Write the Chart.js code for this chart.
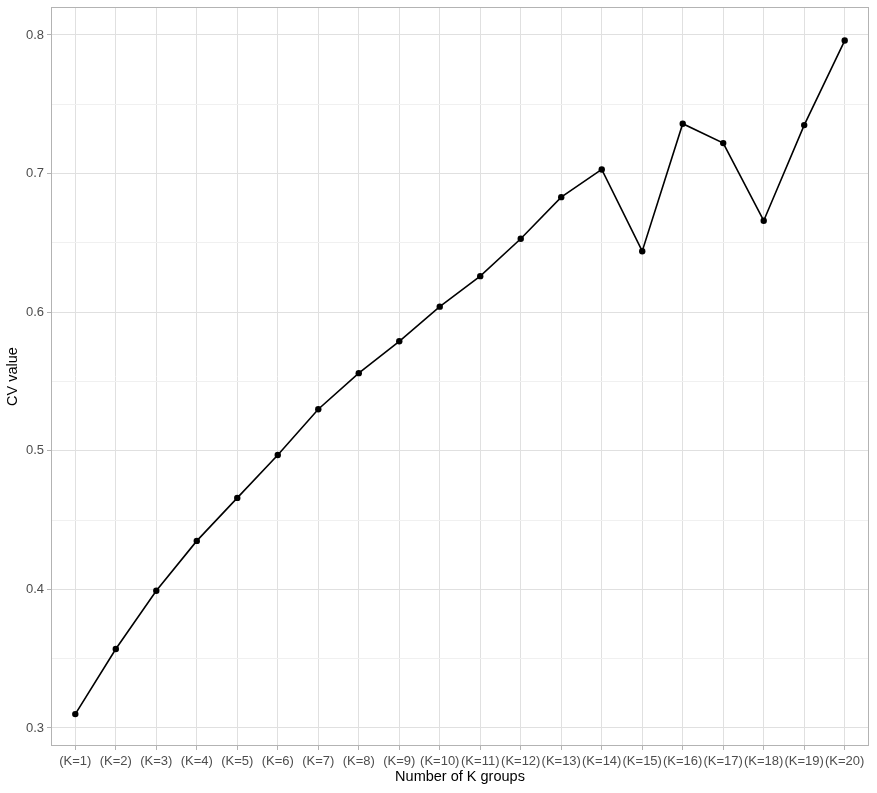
<!DOCTYPE html>
<html>
<head>
<meta charset="utf-8">
<script src="https://cdn.jsdelivr.net/npm/chart.js@4/dist/chart.umd.min.js"></script>
<style>
    body { margin: 0; background: #fff; }
    #wrap { width: 877px; height: 793px; }
</style>
</head>
<body>
<div id="wrap"><canvas id="cvChart"></canvas></div>
<script>
const categories = ['(K=1)', '(K=2)', '(K=3)', '(K=4)', '(K=5)', '(K=6)', '(K=7)', '(K=8)', '(K=9)', '(K=10)',
    '(K=11)', '(K=12)', '(K=13)', '(K=14)', '(K=15)', '(K=16)', '(K=17)', '(K=18)', '(K=19)', '(K=20)'];
const cvValues = [0.310, 0.357, 0.399, 0.435, 0.466, 0.497, 0.530, 0.556, 0.579, 0.604,
    0.626, 0.653, 0.683, 0.703, 0.644, 0.736, 0.722, 0.666, 0.735, 0.796];
const yMajorTicks = [0.3, 0.4, 0.5, 0.6, 0.7, 0.8];
const yMinorTicks = [0.35, 0.45, 0.55, 0.65, 0.75];

Chart.defaults.font.family = "'Liberation Sans', Arial, sans-serif";

function isMajor(value) {
    return yMajorTicks.some(v => Math.abs(v - value) < 1e-6);
}

const panelBorder = {
    id: 'panelBorder',
    afterDraw(chart) {
        const { ctx, chartArea } = chart;
        ctx.save();
        ctx.strokeStyle = '#b3b3b3';
        ctx.lineWidth = 1;
        ctx.strokeRect(chartArea.left + 0.5, chartArea.top + 0.5,
            chartArea.right - chartArea.left - 1, chartArea.bottom - chartArea.top - 1);
        ctx.restore();
    }
};

function createChart(elementId) {
    const ctx = document.getElementById(elementId);
    if (!ctx) {
        console.error(`Element with id ${elementId} not found.`);
        return;
    }

    new Chart(ctx, {
        type: 'line',
        data: {
            datasets: [{
                data: cvValues.map((v, i) => ({ x: i + 1, y: v })),
                borderColor: '#000',
                borderWidth: 1.6,
                backgroundColor: '#000',
                pointRadius: 3.2,
                pointBorderWidth: 0,
                pointBackgroundColor: '#000',
                tension: 0,
                fill: false
            }]
        },
        options: {
            responsive: true,
            maintainAspectRatio: false,
            animation: false,
            layout: { padding: { top: 7, right: 8, left: 0, bottom: 0 } },
            plugins: {
                legend: { display: false },
                tooltip: { enabled: false }
            },
            scales: {
                x: {
                    type: 'linear',
                    min: 0.4,
                    max: 20.6,
                    afterBuildTicks: (scale) => {
                        scale.ticks = categories.map((_, i) => ({ value: i + 1 }));
                    },
                    afterFit: (scale) => {
                        scale.height = 47;
                        scale.paddingLeft = 0;
                        scale.paddingRight = 0;
                    },
                    border: { display: false },
                    grid: {
                        color: '#e0e0e0',
                        lineWidth: 1,
                        tickLength: 4,
                        tickColor: '#b3b3b3'
                    },
                    ticks: {
                        autoSkip: false,
                        maxRotation: 0,
                        minRotation: 0,
                        padding: 4,
                        color: '#4d4d4d',
                        font: { size: 13 },
                        callback: (v) => categories[Math.round(v) - 1] || ''
                    },
                    title: {
                        display: true,
                        text: 'Number of K groups',
                        color: '#000',
                        font: { size: 14.5 },
                        padding: { top: 0, bottom: 7 }
                    }
                },
                y: {
                    type: 'linear',
                    min: 0.287,
                    max: 0.8202,
                    afterBuildTicks: (scale) => {
                        scale.ticks = yMajorTicks.concat(yMinorTicks)
                            .sort((a, b) => a - b)
                            .map(v => ({ value: v }));
                    },
                    afterFit: (scale) => {
                        scale.width = 51;
                        scale.paddingTop = 0;
                        scale.paddingBottom = 0;
                    },
                    border: { display: false },
                    grid: {
                        color: (c) => isMajor(c.tick.value) ? '#e0e0e0' : '#f0f0f0',
                        lineWidth: 1,
                        tickLength: 4,
                        tickColor: (c) => isMajor(c.tick.value) ? '#b3b3b3' : 'rgba(0,0,0,0)'
                    },
                    ticks: {
                        padding: 3,
                        color: '#4d4d4d',
                        font: { size: 13 },
                        callback: (v) => isMajor(v) ? v.toFixed(1) : ''
                    },
                    title: {
                        display: true,
                        text: 'CV value',
                        color: '#000',
                        font: { size: 14.5 },
                        padding: { top: 4, bottom: 0 }
                    }
                }
            }
        },
        plugins: [panelBorder]
    });
}

window.onload = () => {
    createChart('cvChart');
};
</script>
</body>
</html>
